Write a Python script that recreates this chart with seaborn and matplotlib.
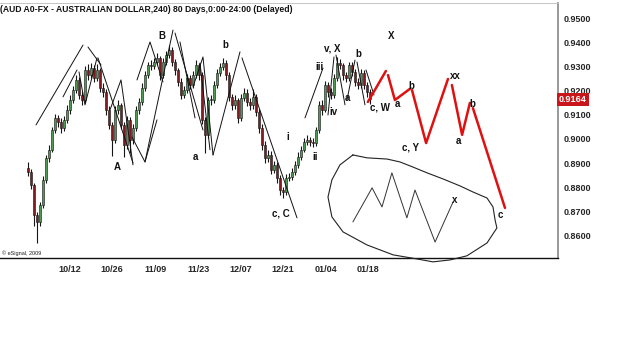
import matplotlib
matplotlib.use('Agg')
import matplotlib.pyplot as plt
import seaborn as sns
import numpy as np
import pandas as pd

sns.set_style('white')
plt.rcParams['font.family'] = ['Liberation Sans', 'DejaVu Sans']

# ---------------- data (prices in pips, 1 pip = 0.0001) ----------------
opens = [8880, 8864, 8810, 8686, 8657, 8727, 8831, 8922, 8955, 9037,
         9087, 9070, 9045, 9079, 9120, 9161, 9202, 9244, 9182, 9161,
         9285, 9264, 9293, 9252, 9285, 9211, 9194, 9120, 9058, 8996,
         9120, 9140, 9058, 8975, 9079, 8996, 9045, 9120, 9153, 9211,
         9264, 9306, 9302, 9318, 9335, 9264, 9318, 9347, 9368, 9318,
         9285, 9236, 9182, 9202, 9252, 9223, 9264, 9306, 9264, 9079,
         9017, 9161, 9161, 9223, 9273, 9298, 9314, 9264, 9174, 9140,
         9161, 9087, 9169, 9190, 9153, 9140, 9174, 9112, 9045, 8975,
         8922, 8934, 8872, 8893, 8839, 8789, 8781, 8839, 8843, 8864,
         8893, 8926, 8955, 8988, 8996, 8988, 8984, 9037, 9140, 9120,
         9223, 9194, 9182, 9252, 9314, 9306, 9264, 9252, 9306, 9277,
         9236, 9223, 9273, 9223, 9194]
closes = [8864, 8810, 8686, 8657, 8727, 8831, 8922, 8955, 9037, 9087,
          9070, 9045, 9079, 9120, 9161, 9202, 9244, 9182, 9161, 9285,
          9264, 9293, 9252, 9285, 9211, 9194, 9120, 9058, 8996, 9120,
          9140, 9058, 8975, 9079, 8996, 9045, 9120, 9153, 9211, 9264,
          9306, 9302, 9318, 9335, 9264, 9318, 9347, 9368, 9318, 9285,
          9236, 9182, 9202, 9252, 9223, 9264, 9306, 9264, 9079, 9017,
          9161, 9161, 9223, 9273, 9298, 9314, 9264, 9174, 9140, 9161,
          9087, 9169, 9190, 9153, 9140, 9174, 9112, 9045, 8975, 8922,
          8934, 8872, 8893, 8839, 8789, 8781, 8839, 8843, 8864, 8893,
          8926, 8955, 8988, 8996, 8988, 8984, 9037, 9140, 9120, 9223,
          9194, 9182, 9252, 9314, 9306, 9264, 9252, 9306, 9277, 9236,
          9223, 9273, 9223, 9194, 9164]
highs = [8905, 8875, 8820, 8700, 8740, 8845, 8935, 8975, 9050, 9105,
         9100, 9085, 9095, 9140, 9180, 9220, 9265, 9255, 9200, 9300,
         9310, 9315, 9305, 9310, 9295, 9230, 9205, 9135, 9070, 9135,
         9160, 9150, 9070, 9095, 9090, 9060, 9135, 9170, 9230, 9280,
         9320, 9325, 9335, 9355, 9345, 9335, 9365, 9390, 9380, 9330,
         9295, 9250, 9220, 9270, 9265, 9280, 9325, 9315, 9275, 9090,
         9175, 9180, 9240, 9290, 9315, 9335, 9325, 9275, 9185, 9180,
         9170, 9185, 9210, 9205, 9170, 9205, 9185, 9125, 9060, 8990,
         8955, 8950, 8910, 8905, 8850, 8800, 8855, 8860, 8880, 8910,
         8945, 8970, 9005, 9015, 9010, 9005, 9050, 9155, 9160, 9240,
         9235, 9210, 9270, 9340, 9330, 9315, 9275, 9320, 9320, 9290,
         9250, 9290, 9285, 9235, 9205]
lows = [8845, 8795, 8640, 8570, 8640, 8715, 8820, 8905, 8945, 9025,
        9050, 9025, 9035, 9065, 9105, 9150, 9190, 9165, 9140, 9150,
        9245, 9250, 9235, 9240, 9195, 9175, 9100, 9040, 8930, 8985,
        9105, 9040, 8925, 8960, 8940, 8980, 9035, 9105, 9140, 9200,
        9250, 9285, 9290, 9305, 9245, 9250, 9305, 9335, 9300, 9265,
        9220, 9165, 9170, 9190, 9205, 9210, 9250, 9245, 9060, 8940,
        9005, 9140, 9150, 9210, 9260, 9285, 9245, 9155, 9120, 9125,
        9065, 9075, 9155, 9135, 9120, 9125, 9095, 9025, 8955, 8900,
        8905, 8855, 8860, 8820, 8770, 8755, 8770, 8825, 8830, 8850,
        8880, 8915, 8945, 8975, 8970, 8965, 8970, 9025, 9100, 9110,
        9175, 9165, 9170, 9240, 9290, 9245, 9235, 9240, 9260, 9220,
        9205, 9210, 9205, 9175, 9145]
last_price = 0.9164

date_labels = ['10/12', '10/26', '11/09', '11/23', '12/07', '12/21', '01/04', '01/18']
date_bars = [10.3, 24.3, 38.7, 53.0, 67.0, 81.3, 95.7, 109.7]
price_ticks = [0.86, 0.87, 0.88, 0.89, 0.90, 0.91, 0.92, 0.93, 0.94, 0.95]

# projected Elliott-wave path (red), segments: bar, pips
fc_seg = [1, 1, 2, 2, 2, 3, 3, 3, 4, 4, 4, 5, 5]
fc_bar = [113.3, 119.3, 120.0, 122.3, 127.3, 128.0, 132.7, 140.0, 141.3, 144.7, 147.3, 148.3, 159.0]
fc_pip = [9153, 9281, 9264, 9161, 9207, 9202, 8983, 9248, 9223, 9017, 9149, 9128, 8715]

# hand-drawn wave lines (black)
tl_seg = [1, 1, 2, 2, 3, 3, 3, 4, 4, 5, 5, 6, 6, 6, 7, 7, 7, 8, 8, 9, 9, 9,
          10, 10, 11, 11, 11, 12, 12, 13, 13, 14, 14, 15, 15, 16, 16, 17, 17,
          18, 18, 19, 19, 20, 20, 21, 21]
tl_bar = [2.67, 18.33, 11.67, 16.33, 17.0, 19.0, 23.0, 20.0, 24.33, 23.33, 35.0,
          27.33, 31.0, 35.0, 34.67, 39.0, 43.0, 39.0, 48.33, 36.33, 40.67, 45.0,
          49.0, 58.33, 55.0, 58.33, 61.67, 57.33, 60.67, 61.67, 70.67, 71.33, 89.67,
          92.33, 98.33, 100.0, 102.0, 102.67, 105.67, 106.33, 109.0, 109.67, 112.33,
          112.67, 115.33, 50.67, 55.67]
tl_pip = [9058, 9388, 9174, 9285, 9277, 9141, 9335, 9380, 9306, 9335, 8901,
          9120, 9244, 8893, 9008, 8905, 9079, 8905, 9450, 9244, 9401, 9236,
          9438, 9037, 9215, 9339, 8934, 9314, 8955, 8934, 9360, 9335, 8674,
          9087, 9293, 9099, 9339, 9347, 9141, 9161, 9326, 9318, 9141,
          9285, 9182, 9401, 9087]

# circled sketch of the alternative pattern
blob_bar = [108.3, 113.0, 119.7, 124.0, 128.3, 133.0, 138.3, 144.0, 148.3, 153.0, 155.0,
            155.7, 156.3, 153.0, 146.3, 140.7, 135.0, 129.7, 121.7, 113.0, 105.0, 101.3,
            100.0, 101.3, 104.0, 108.3]
blob_pip = [8934, 8922, 8917, 8905, 8884, 8860, 8835, 8806, 8781, 8756, 8719,
            8665, 8632, 8570, 8517, 8500, 8492, 8504, 8521, 8562, 8616, 8678,
            8760, 8831, 8893, 8934]
zz_bar = [108.3, 114.7, 118.0, 121.3, 126.3, 129.0, 135.7, 141.7]
zz_pip = [8657, 8798, 8719, 8860, 8674, 8789, 8574, 8740]

# wave labels: text, bar, pips
lab_text = ['B', 'b', 'A', 'a', 'c, C', 'i', 'ii', 'iii', 'v, X', 'b', 'iv', 'a', 'c, W',
            'X', 'a', 'b', 'c, Y', 'xx', 'a', 'b', 'c', 'x']
lab_bar = [44.67, 65.67, 29.67, 55.67, 84.33, 86.67, 95.67, 97.33, 101.33, 110.0, 101.67,
           106.33, 117.5, 121.0, 123.0, 127.67, 127.67, 142.33, 143.33, 148.0, 157.33, 142.33]
lab_pip = [9426, 9388, 8884, 8926, 8694, 9008, 8926, 9298, 9372, 9351, 9112,
           9169, 9132, 9426, 9145, 9219, 8963, 9260, 8992, 9145, 8686, 8748]

# ---------------- build frames ----------------
P = 10000.0
candles = pd.DataFrame({'bar': np.arange(len(closes)),
                        'open': np.array(opens) / P, 'close': np.array(closes) / P,
                        'high': np.array(highs) / P, 'low': np.array(lows) / P})
fc = pd.DataFrame({'seg': fc_seg, 'bar': fc_bar, 'price': np.array(fc_pip) / P})
tl = pd.DataFrame({'seg': tl_seg, 'bar': tl_bar, 'price': np.array(tl_pip) / P})

W, H = 625, 344
fig = plt.figure(figsize=(W / 100, H / 100), dpi=100)
ax = fig.add_axes([0.0, (H - 258) / H, 558 / W, 255 / H])
ax.set_facecolor('white')

# candles
up = candles['close'] >= candles['open']
ax.vlines(candles['bar'], candles['low'], candles['high'], color='#151515', lw=0.8, zorder=2)
body = (candles['close'] - candles['open']).abs().clip(lower=0.00025)
bottom = candles[['open', 'close']].min(axis=1)
ax.bar(candles['bar'][up], body[up], bottom=bottom[up], width=0.85,
       color='#4e9a55', edgecolor='#151515', linewidth=0.4, zorder=3)
ax.bar(candles['bar'][~up], body[~up], bottom=bottom[~up], width=0.85,
       color='#7e1c20', edgecolor='#151515', linewidth=0.4, zorder=3)

# wave lines
sns.lineplot(data=tl, x='bar', y='price', units='seg', estimator=None, sort=False,
             color='#111111', lw=0.7, ax=ax, legend=False, zorder=4)
sns.lineplot(data=fc, x='bar', y='price', units='seg', estimator=None, sort=False,
             color='#e01010', lw=1.8, ax=ax, legend=False, zorder=5)

ax.plot(blob_bar, np.array(blob_pip) / P, color='#222222', lw=0.8, clip_on=False, zorder=4)
ax.plot(zz_bar, np.array(zz_pip) / P, color='#333333', lw=0.7, zorder=4)

for t, b, p in zip(lab_text, lab_bar, lab_pip):
    ax.text(b, p / P, t, ha='center', va='center', fontsize=7, fontweight='bold',
            color='#111111', zorder=6)

ax.set_xlim(-9.33, 176.67)
ax.set_ylim(0.8508, 0.9562)

ax.set_xticks(date_bars)
ax.set_xticklabels(date_labels, fontsize=6.5, fontweight='bold', ha='left')
ax.tick_params(axis='x', length=2, width=0.6, color='#555555', pad=3, direction='out')
ax.yaxis.tick_right()
ax.set_yticks(price_ticks)
ax.set_yticklabels([f'{v:.4f}' for v in price_ticks], fontsize=6.5, fontweight='bold')
ax.tick_params(axis='y', length=0, pad=4)
ax.set_xlabel('')
ax.set_ylabel('')

ax.spines['left'].set_visible(False)
ax.spines['top'].set_color('#bbbbbb')
ax.spines['top'].set_linewidth(0.6)
ax.spines['right'].set_color('#888888')
ax.spines['right'].set_linewidth(1.2)
ax.spines['bottom'].set_color('#111111')
ax.spines['bottom'].set_linewidth(1.0)

ax.text(1.002, last_price, f'{last_price:.4f}', transform=ax.get_yaxis_transform(),
        ha='left', va='center', fontsize=6.5, fontweight='bold', color='white',
        bbox=dict(boxstyle='square,pad=0.25', fc='#c8161b', ec='none'), zorder=7)

fig.text(0.0, 1 - 9 / H, '(AUD A0-FX - AUSTRALIAN DOLLAR,240) 80 Days,0:00-24:00 (Delayed)',
         ha='left', va='center', fontsize=6.2, fontweight='bold', color='#111111')
fig.text(2 / W, 1 - 253 / H, '\u00a9 eSignal, 2009', ha='left', va='center', fontsize=4,
         color='#222222')

fig.savefig('out.png', dpi=100, facecolor='white')
